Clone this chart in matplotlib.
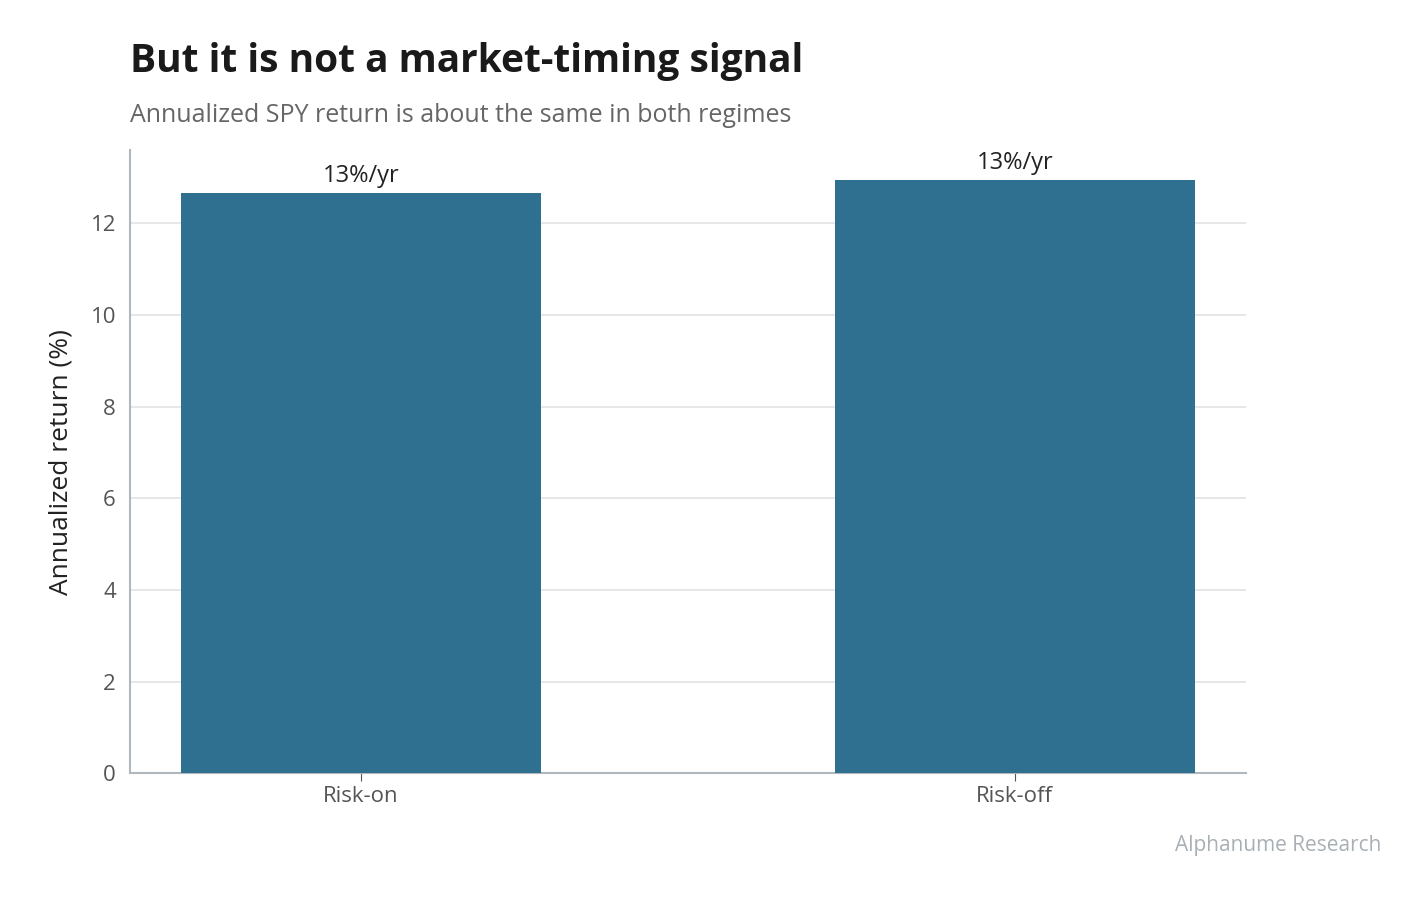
import matplotlib
matplotlib.use("Agg")
import matplotlib.pyplot as plt

categories = ["Risk-on", "Risk-off"]
values = [12.65, 12.94]
labels = ["13%/yr", "13%/yr"]

plt.rcParams['font.family'] = ['Open Sans', 'DejaVu Sans']
fig = plt.figure(figsize=(14.27, 8.98), dpi=100)
ax = fig.add_axes([0.091, 0.139, 0.782, 0.694])
x = list(range(len(categories)))
bars = ax.bar(x, values, width=0.55, color="#2f6f8f", zorder=3)
for b, l in zip(bars, labels):
    ax.text(b.get_x() + b.get_width()/2, b.get_height() + 0.12, l,
            ha="center", va="bottom", fontsize=17, color="#222222")
ax.set_xlim(-0.353, 1.353)
ax.set_ylim(0, 13.6)
ax.set_yticks([0, 2, 4, 6, 8, 10, 12])
ax.set_xticks(x)
ax.set_xticklabels(categories)
ax.tick_params(axis="both", labelsize=16, colors="#555555")
ax.tick_params(axis="y", length=0, pad=10)
ax.tick_params(axis="x", length=6, color="#555555")
ax.grid(axis="y", color="#e3e3e3", linewidth=1.2, zorder=0)
for s in ["top", "right"]:
    ax.spines[s].set_visible(False)
for s in ["left", "bottom"]:
    ax.spines[s].set_color("#b0b8bd")
    ax.spines[s].set_linewidth(1.5)
ax.set_ylabel("Annualized return (%)", fontsize=19, color="#222222", labelpad=12)
fig.text(0.091, 0.91, "But it is not a market-timing signal", fontsize=28,
         fontweight="bold", color="#1a1a1a", va="bottom")
fig.text(0.091, 0.858, "Annualized SPY return is about the same in both regimes",
         fontsize=18, color="#666666", va="bottom")
fig.text(0.968, 0.052, "Alphanume Research", fontsize=15, color="#a8b0b5", ha="right")
fig.savefig("out.png", dpi=100)
